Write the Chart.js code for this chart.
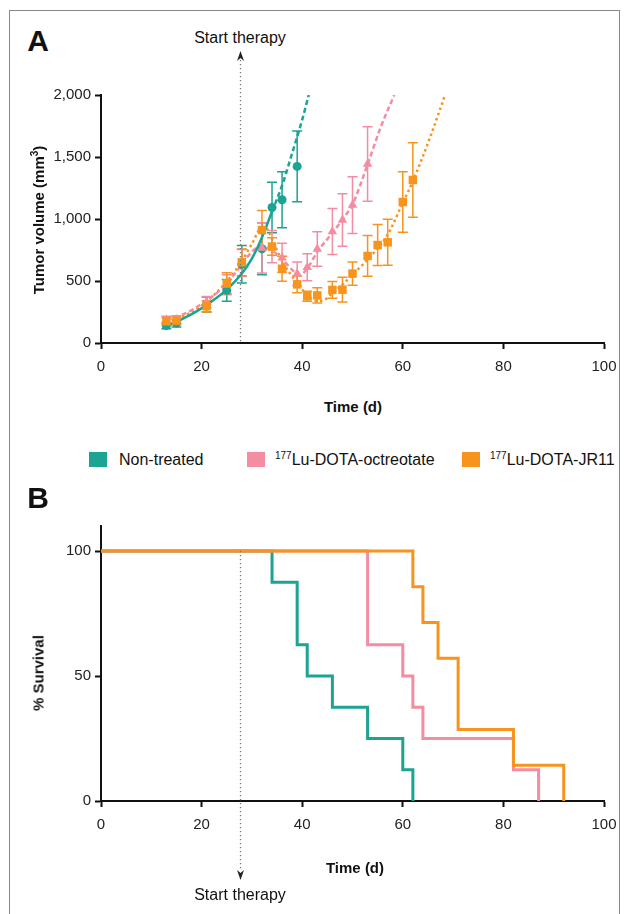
<!DOCTYPE html>
<html>
<head>
<meta charset="utf-8">
<script src="https://cdn.jsdelivr.net/npm/chart.js@4.4.1/dist/chart.umd.min.js"></script>
<style>
  body { margin: 0; width: 627px; height: 914px; position: relative; background: #fff; overflow: hidden;
         font-family: "Liberation Sans", Arial, sans-serif; color: #111; }
  #frame { position: absolute; left: 9px; top: 10px; width: 609px; height: 930px; border: 1px solid #888; }
  canvas { position: absolute; left: 0; }
  .t { position: absolute; white-space: nowrap; line-height: 1; transform: translate(-50%, -50%); }
  .panel { font-size: 30px; font-weight: bold; }
  .ttl { font-size: 15px; font-weight: bold; }
  .rot { transform: translate(-50%, -50%) rotate(-90deg); }
  .note { font-size: 16px; }
  .sw { position: absolute; width: 18px; height: 15px; }
  .leg { position: absolute; font-size: 16px; line-height: 1; white-space: nowrap; }
  .leg sup { font-size: 10px; vertical-align: 6px; line-height: 0; }
</style>
</head>
<body>
<div id="frame"></div>

<div class="t panel" style="left:38px;top:41px">A</div>
<div class="t note" style="left:240px;top:38px">Start therapy</div>
<canvas id="chartA" width="627" height="340" style="top:40px"></canvas>
<div class="t ttl rot" style="left:38px;top:220px">Tumor volume (mm<sup style="font-size:10px">3</sup>)</div>
<div class="t ttl" style="left:353px;top:406px">Time (d)</div>

<div class="sw" style="left:89px;top:452px;background:#1ba393"></div>
<div class="leg" style="left:119px;top:452px">Non-treated</div>
<div class="sw" style="left:247px;top:452px;background:#f48ca2"></div>
<div class="leg" style="left:275px;top:452px"><sup>177</sup>Lu-DOTA-octreotate</div>
<div class="sw" style="left:462px;top:452px;background:#f7941d"></div>
<div class="leg" style="left:490px;top:452px"><sup>177</sup>Lu-DOTA-JR11</div>

<div class="t panel" style="left:38px;top:498px">B</div>
<canvas id="chartB" width="627" height="400" style="top:500px"></canvas>
<div class="t ttl rot" style="left:38px;top:673px">% Survival</div>
<div class="t ttl" style="left:355px;top:867px">Time (d)</div>
<div class="t note" style="left:240px;top:895px">Start therapy</div>

<script>
const teal = '#1ba393';
const pink = '#f48ca2';
const orange = '#f7941d';

const therapyDay = 27.6;

// Panel A: mean tumour volume with error bars
const tealDays = [13, 15, 21, 25, 28, 32, 34, 36, 39];
const tealMean = [140, 160, 310, 424, 635, 760, 1093, 1155, 1424];
const tealErr  = [25, 30, 60, 88, 151, 209, 204, 226, 285];

const pinkDays = [13, 15, 21, 25, 28, 32, 34, 36, 39, 41, 43, 46, 48, 50, 53];
const pinkMean = [185, 190, 330, 470, 646, 767, 778, 687, 558, 611, 758, 899, 992, 1112, 1444];
const pinkErr  = [30, 30, 45, 80, 108, 202, 130, 118, 95, 108, 139, 186, 211, 229, 300];

const orangeDays = [13, 15, 21, 25, 28, 32, 34, 36, 39, 41, 43, 46, 48, 50, 53, 55, 57, 60, 62];
const orangeMean = [175, 180, 296, 482, 651, 911, 778, 599, 473, 377, 384, 428, 430, 560, 702, 790, 812, 1137, 1315];
const orangeErr  = [30, 30, 45, 85, 108, 157, 70, 101, 67, 40, 61, 67, 100, 94, 164, 166, 185, 244, 300];

// fitted curves
const tealFitDays = [13, 16, 19, 22, 25, 28, 30, 32, 34, 36, 38, 40, 41.3];
const tealFitVol  = [135, 190, 255, 335, 430, 560, 680, 850, 1060, 1270, 1530, 1800, 2000];
const tealSolidUntil = 34;

const pinkFitDays = [13, 16, 20, 24, 27, 29, 31, 32, 34, 36, 38, 39.5, 41, 43, 46, 48, 50, 53, 55.7, 58.3];
const pinkFitVol  = [195, 225, 315, 440, 580, 690, 770, 780, 745, 680, 590, 548, 600, 735, 888, 996, 1117, 1440, 1750, 2000];

const orangeFitDays = [13, 16, 20, 24, 26, 28, 30, 32, 33, 34, 36, 39, 41, 43, 44.5, 46, 48, 50, 53, 57, 60, 62, 65.4, 68.4];
const orangeFitVol  = [170, 210, 300, 450, 545, 660, 800, 930, 920, 840, 660, 485, 385, 340, 350, 404, 471, 552, 673, 875, 1131, 1305, 1656, 2000];

const volTicks = [0, 500, 1000, 1500, 2000];
const timeTicks = [0, 20, 40, 60, 80, 100];

// Panel B: Kaplan-Meier survival
const survDaysTeal = [0, 34, 39, 41, 46, 53, 60, 62];
const survPctTeal  = [100, 87.5, 62.5, 50, 37.5, 25, 12.5, 0];
const survDaysPink = [0, 53, 60, 62, 64, 82, 87];
const survPctPink  = [100, 62.5, 50, 37.5, 25, 12.5, 0];
const survDaysOrange = [0, 62, 64, 67, 71, 82, 92];
const survPctOrange  = [100, 85.7, 71.4, 57.1, 28.6, 14.3, 0];
const survTicks = [0, 50, 100];

const tickFont = { family: '"Liberation Sans", Arial, sans-serif', size: 15 };
const pts = (xs, ys) => xs.map((x, i) => ({ x: x, y: ys[i] }));

const errorBars = {
    id: 'errorBars',
    beforeDatasetsDraw(chart, args, opts) {
        const ctx = chart.ctx, xs = chart.scales.x, ys = chart.scales.y;
        ctx.save();
        ctx.lineWidth = 1.5;
        (opts.sets || []).forEach(s => {
            ctx.strokeStyle = s.color;
            s.days.forEach((d, i) => {
                const x = xs.getPixelForValue(d);
                const y1 = ys.getPixelForValue(s.mean[i] - s.err[i]);
                const y2 = ys.getPixelForValue(s.mean[i] + s.err[i]);
                ctx.beginPath();
                ctx.moveTo(x, y1); ctx.lineTo(x, y2);
                ctx.moveTo(x - 5, y1); ctx.lineTo(x + 5, y1);
                ctx.moveTo(x - 5, y2); ctx.lineTo(x + 5, y2);
                ctx.stroke();
            });
        });
        ctx.restore();
    }
};

const therapyLine = {
    id: 'therapyLine',
    afterDraw(chart, args, opts) {
        const ctx = chart.ctx;
        const x = Math.round(chart.scales.x.getPixelForValue(therapyDay)) + 0.5;
        let top, bottom;
        if (opts.arrow === 'up') {
            top = opts.tip + 9;
            bottom = chart.chartArea.bottom;
        } else {
            top = chart.scales.y.getPixelForValue(100);
            bottom = opts.tip - 9;
        }
        ctx.save();
        ctx.strokeStyle = '#777';
        ctx.lineWidth = 1.3;
        ctx.setLineDash([1.3, 2.7]);
        ctx.beginPath();
        ctx.moveTo(x, top); ctx.lineTo(x, bottom);
        ctx.stroke();
        ctx.setLineDash([]);
        ctx.fillStyle = '#222';
        ctx.beginPath();
        const dir = opts.arrow === 'up' ? 1 : -1;
        ctx.moveTo(x, opts.tip);
        ctx.lineTo(x - 3.5, opts.tip + dir * 10);
        ctx.lineTo(x, opts.tip + dir * 7);
        ctx.lineTo(x + 3.5, opts.tip + dir * 10);
        ctx.closePath();
        ctx.fill();
        ctx.restore();
    }
};

function xAxis(height) {
    return {
        type: 'linear', min: 0, max: 100,
        afterBuildTicks: s => { s.ticks = timeTicks.map(v => ({ value: v })); },
        afterFit: s => { s.height = height; },
        grid: { drawOnChartArea: false, drawTicks: true, tickLength: 6, tickWidth: 2, tickColor: '#111' },
        border: { color: '#111', width: 2 },
        ticks: { color: '#222', font: tickFont, padding: 9, maxRotation: 0 }
    };
}

function yAxis(max, ticks, fmt) {
    return {
        type: 'linear', min: 0, max: max,
        afterBuildTicks: s => { s.ticks = ticks.map(v => ({ value: v })); },
        afterFit: s => { s.width = 101; },
        grid: { drawOnChartArea: false, drawTicks: true, tickLength: 6, tickWidth: 2, tickColor: '#111' },
        border: { color: '#111', width: 2 },
        ticks: { color: '#222', font: tickFont, padding: 4, callback: fmt }
    };
}

function fitLine(xs, ys, color, dash, solidUntil) {
    return {
        data: pts(xs, ys),
        borderColor: color,
        borderWidth: 2.5,
        pointRadius: 0,
        cubicInterpolationMode: 'monotone',
        borderDash: solidUntil == null ? dash : [],
        segment: solidUntil == null ? {} : { borderDash: c => c.p0.parsed.x >= solidUntil ? dash : undefined },
        order: 5
    };
}

function markers(xs, ys, color, style, r, order) {
    return {
        data: pts(xs, ys),
        showLine: false,
        pointStyle: style,
        pointRadius: r,
        pointHoverRadius: r,
        backgroundColor: color,
        borderColor: color,
        borderWidth: 0,
        order: order
    };
}

new Chart(document.getElementById('chartA'), {
    type: 'line',
    data: {
        datasets: [
            fitLine(tealFitDays, tealFitVol, teal, [5, 3], tealSolidUntil),
            fitLine(pinkFitDays, pinkFitVol, pink, [5, 3]),
            fitLine(orangeFitDays, orangeFitVol, orange, [2.5, 3]),
            markers(tealDays, tealMean, teal, 'circle', 4.5, 3),
            markers(pinkDays, pinkMean, pink, 'triangle', 5.5, 2),
            markers(orangeDays, orangeMean, orange, 'rect', 6, 1)
        ]
    },
    options: {
        responsive: false,
        animation: false,
        layout: { padding: { top: 55, right: 23, left: 0, bottom: 0 } },
        scales: {
            x: xAxis(37),
            y: yAxis(2000, volTicks, v => v.toLocaleString('en-US'))
        },
        plugins: {
            legend: { display: false },
            tooltip: { enabled: false },
            errorBars: {
                sets: [
                    { days: tealDays, mean: tealMean, err: tealErr, color: teal },
                    { days: pinkDays, mean: pinkMean, err: pinkErr, color: pink },
                    { days: orangeDays, mean: orangeMean, err: orangeErr, color: orange }
                ]
            },
            therapyLine: { arrow: 'up', tip: 11 }
        }
    },
    plugins: [errorBars, therapyLine]
});

function survLine(xs, ys, color, order) {
    return {
        data: pts(xs, ys),
        borderColor: color,
        borderWidth: 3,
        stepped: 'before',
        pointRadius: 0,
        order: order
    };
}

new Chart(document.getElementById('chartB'), {
    type: 'line',
    data: {
        datasets: [
            survLine(survDaysTeal, survPctTeal, teal, 3),
            survLine(survDaysPink, survPctPink, pink, 2),
            survLine(survDaysOrange, survPctOrange, orange, 1)
        ]
    },
    options: {
        responsive: false,
        animation: false,
        layout: { padding: { top: 26, right: 23, left: 0, bottom: 0 } },
        scales: {
            x: xAxis(99),
            y: yAxis(110, survTicks, v => v)
        },
        plugins: {
            legend: { display: false },
            tooltip: { enabled: false },
            therapyLine: { arrow: 'down', tip: 380 }
        }
    },
    plugins: [therapyLine]
});
</script>
</body>
</html>
